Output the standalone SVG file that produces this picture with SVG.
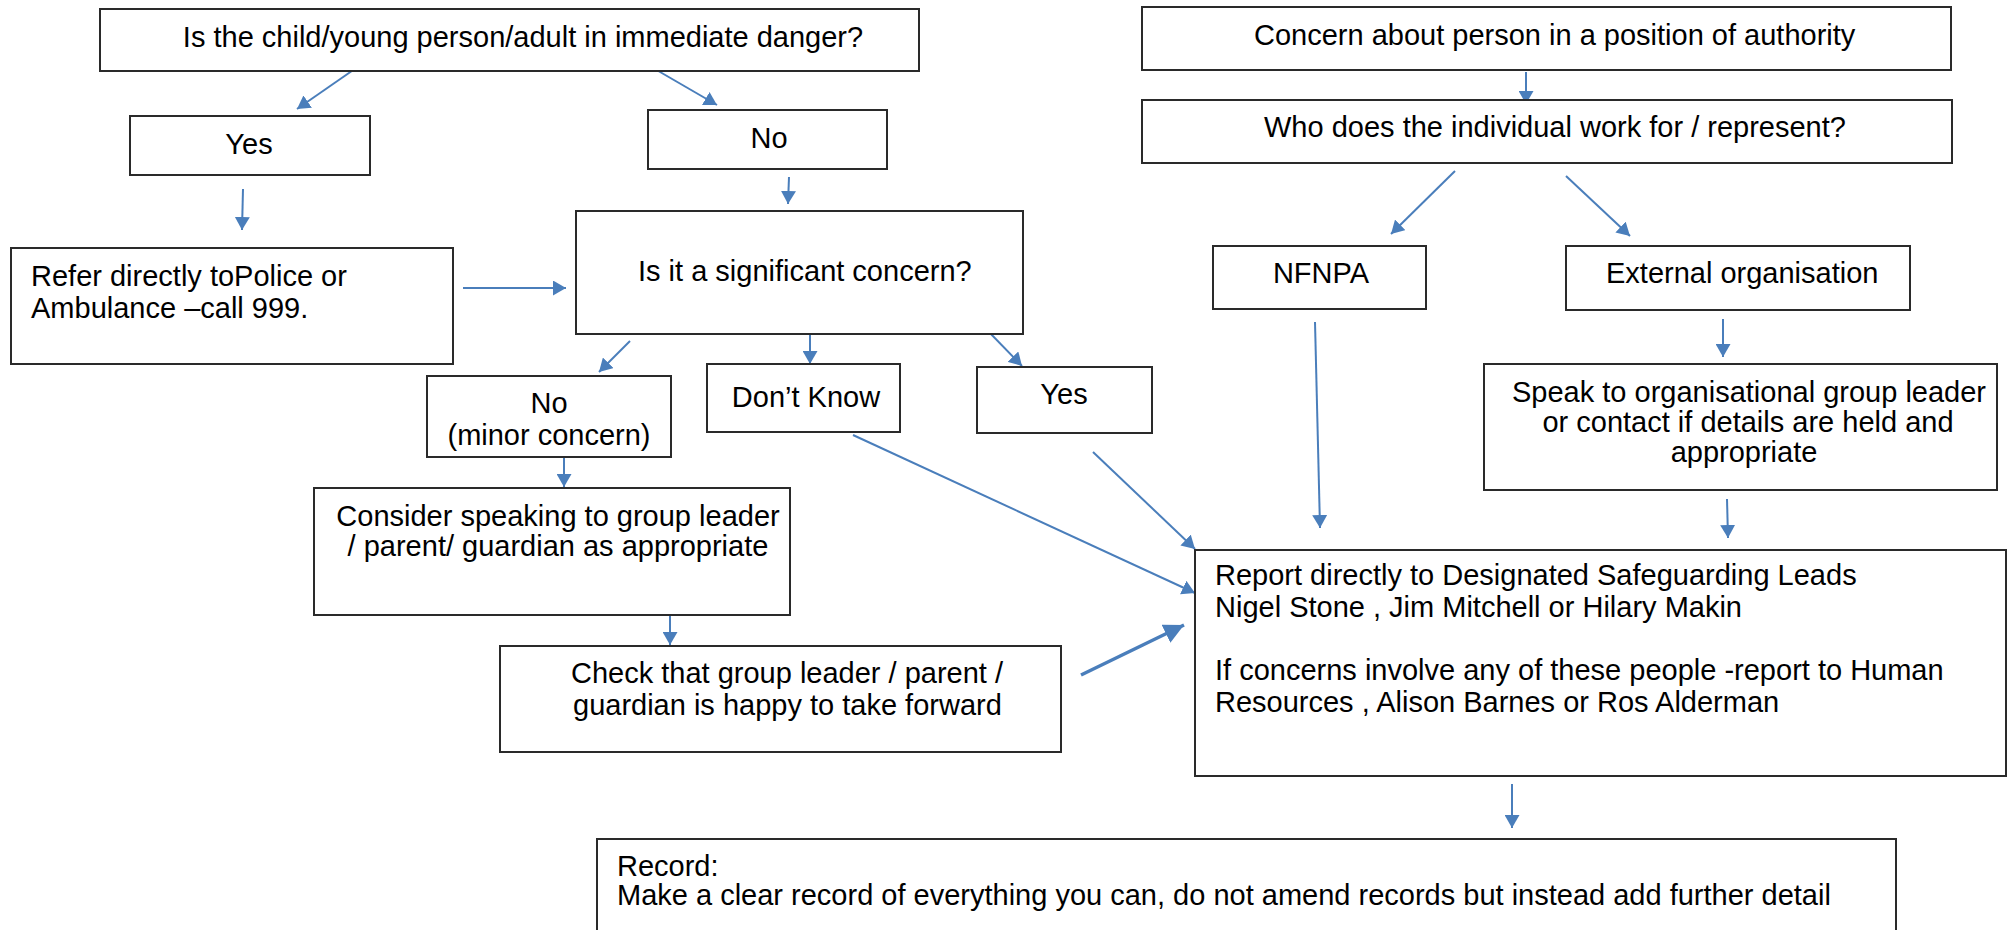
<svg xmlns="http://www.w3.org/2000/svg" width="2007" height="930" viewBox="0 0 2007 930">
<style>
.box{fill:#fff;stroke:#2a2a2a;stroke-width:2}
.t{font-family:"Liberation Sans",Arial,sans-serif;font-size:29px;fill:#000}
.m{text-anchor:middle}
.c{stroke:#4a7ebb;stroke-width:2;fill:none;marker-end:url(#ah)}
.cb{stroke:#4a7ebb;stroke-width:3.5;fill:none;marker-end:url(#ahb)}
</style>
<defs>
<marker id="ah" viewBox="0 0 13 15" refX="13" refY="7.5" markerWidth="13" markerHeight="15" markerUnits="userSpaceOnUse" orient="auto"><path d="M0,0 L13,7.5 L0,15 z" fill="#4a7ebb"/></marker>
<marker id="ahb" viewBox="0 0 20 20" refX="20" refY="10" markerWidth="20" markerHeight="20" markerUnits="userSpaceOnUse" orient="auto"><path d="M0,0 L20,10 L0,20 z" fill="#4a7ebb"/></marker>
</defs>
<rect width="2007" height="930" fill="#fff"/>
<g id="connectors">
<line class="c" x1="359" y1="66" x2="297" y2="109"/>
<line class="c" x1="648" y1="65" x2="717" y2="105"/>
<line class="c" x1="243" y1="189" x2="242" y2="230"/>
<line class="c" x1="789" y1="177" x2="788" y2="204"/>
<line class="c" x1="463" y1="288" x2="566" y2="288"/>
<line class="c" x1="630" y1="341" x2="599" y2="372"/>
<line class="c" x1="810" y1="335" x2="810" y2="364"/>
<line class="c" x1="989" y1="332" x2="1022" y2="366"/>
<line class="c" x1="564" y1="457" x2="564" y2="487"/>
<line class="c" x1="670" y1="615" x2="670" y2="645"/>
<line class="c" x1="853" y1="435" x2="1195" y2="593"/>
<line class="c" x1="1093" y1="452" x2="1195" y2="549"/>
<line class="cb" x1="1081" y1="675" x2="1184" y2="625"/>
<line class="c" x1="1526" y1="72" x2="1526" y2="104"/>
<line class="c" x1="1455" y1="171" x2="1391" y2="234"/>
<line class="c" x1="1566" y1="176" x2="1630" y2="236"/>
<line class="c" x1="1315" y1="322" x2="1320" y2="528"/>
<line class="c" x1="1723" y1="319" x2="1723" y2="357"/>
<line class="c" x1="1727" y1="499" x2="1728" y2="538"/>
<line class="c" x1="1512" y1="784" x2="1512" y2="828"/>
</g>
<g id="danger"><rect class="box" x="100" y="9" width="819" height="62"/><text class="t m" x="523" y="47">Is the child/young person/adult in immediate danger?</text></g>
<g id="yes1"><rect class="box" x="130" y="116" width="240" height="59"/><text class="t m" x="249" y="154">Yes</text></g>
<g id="no1"><rect class="box" x="648" y="110" width="239" height="59"/><text class="t m" x="769" y="148">No</text></g>
<g id="refer"><rect class="box" x="11" y="248" width="442" height="116"/><text class="t" x="31" y="286">Refer directly toPolice or</text><text class="t" x="31" y="318">Ambulance –call 999.</text></g>
<g id="significant"><rect class="box" x="576" y="211" width="447" height="123"/><text class="t" x="638" y="281">Is it a significant concern?</text></g>
<g id="no-minor"><rect class="box" x="427" y="376" width="244" height="81"/><text class="t m" x="549" y="413">No</text><text class="t m" x="549" y="445">(minor concern)</text></g>
<g id="dont-know"><rect class="box" x="707" y="364" width="193" height="68"/><text class="t m" x="806" y="407">Don’t Know</text></g>
<g id="yes2"><rect class="box" x="977" y="367" width="175" height="66"/><text class="t m" x="1064" y="404">Yes</text></g>
<g id="consider"><rect class="box" x="314" y="488" width="476" height="127"/><text class="t m" x="558" y="526">Consider speaking to group leader</text><text class="t m" x="558" y="556">/ parent/ guardian as appropriate</text></g>
<g id="check"><rect class="box" x="500" y="646" width="561" height="106"/><text class="t" x="571" y="683">Check that group leader / parent /</text><text class="t" x="573" y="715">guardian is happy to take forward</text></g>
<g id="concern-authority"><rect class="box" x="1142" y="7" width="809" height="63"/><text class="t" x="1254" y="45">Concern about person in a position of authority</text></g>
<g id="who"><rect class="box" x="1142" y="100" width="810" height="63"/><text class="t" x="1264" y="137">Who does the individual work for / represent?</text></g>
<g id="nfnpa"><rect class="box" x="1213" y="246" width="213" height="63"/><text class="t m" x="1321" y="283">NFNPA</text></g>
<g id="external"><rect class="box" x="1566" y="246" width="344" height="64"/><text class="t" x="1606" y="283">External organisation</text></g>
<g id="speak"><rect class="box" x="1484" y="364" width="513" height="126"/><text class="t m" x="1749" y="402">Speak to organisational group leader</text><text class="t m" x="1748" y="432">or contact if details are held and</text><text class="t m" x="1744" y="462">appropriate</text></g>
<g id="report"><rect class="box" x="1195" y="550" width="811" height="226"/><text class="t" x="1215" y="585">Report directly to Designated Safeguarding Leads</text><text class="t" x="1215" y="617">Nigel Stone , Jim Mitchell or Hilary Makin</text><text class="t" x="1215" y="680">If concerns involve any of these people -report to Human</text><text class="t" x="1215" y="712">Resources , Alison Barnes or Ros Alderman</text></g>
<g id="record"><rect class="box" x="597" y="839" width="1299" height="120"/><text class="t" x="617" y="876">Record:</text><text class="t" x="617" y="905">Make a clear record of everything you can, do not amend records but instead add further detail</text></g>
</svg>
